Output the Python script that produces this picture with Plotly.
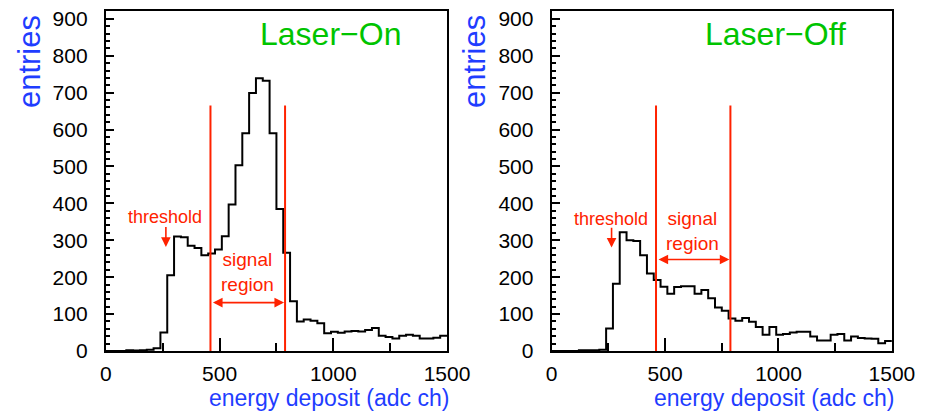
import plotly.graph_objects as go

# ---------------- data ----------------
BIN_WIDTH = 30
X_MIN, X_MAX = 0, 1500
Y_MAX = 922

laser_on = [0, 0, 0, 2, 1, 2, 3, 7, 50, 205,
            310, 308, 285, 279, 259, 264, 275, 311, 397, 503,
            590, 699, 739, 732, 590, 385, 266, 135, 80, 85,
            82, 75, 48, 52, 49, 53, 54, 53, 57, 62,
            41, 38, 34, 41, 44, 41, 34, 34, 36, 41]

laser_off = [0, 0, 0, 0, 2, 2, 2, 3, 61, 182,
             322, 300, 298, 259, 210, 192, 174, 155, 173, 175,
             175, 155, 165, 143, 118, 109, 88, 82, 89, 79,
             65, 44, 65, 44, 46, 50, 52, 52, 39, 28,
             28, 44, 46, 28, 39, 35, 34, 33, 21, 27]

panel_titles = ["Laser\u2212On", "Laser\u2212Off"]
x_title = "energy deposit (adc ch)"
y_title = "entries"
x_ticks = [0, 500, 1000, 1500]
y_ticks = [0, 100, 200, 300, 400, 500, 600, 700, 800, 900]

signal_region = [460, 788]
signal_line_top = 665
threshold = 264

# ---------------- style / layout constants ----------------
FONT = "Liberation Sans, Arial, Helvetica, sans-serif"
RED = "#ff2200"
BLUE = "#1f3dff"
GREEN = "#00c400"
W, H = 943, 418

# panel frames in pixels
frames = [(103, 455), (563, 914)]
frame_top, frame_bottom = 8, 360

# per-panel annotation heights (data units)
threshold_text_y = [362, 358]
threshold_arrow = [(340, 282), (338, 280)]
signal_text_y = [214, 326]
signal_arrow_y = [131, 248]

edges = [X_MIN + i * BIN_WIDTH for i in range(len(laser_on) + 1)]

fig = go.Figure()
annotations = []

for i, (counts, title) in enumerate([(laser_on, panel_titles[0]), (laser_off, panel_titles[1])]):
    xa = "x" if i == 0 else "x2"
    ya = "y" if i == 0 else "y2"
    fig.add_trace(go.Scatter(
        x=edges, y=counts + [counts[-1]], mode="lines", line_shape="hv",
        line=dict(color="black", width=2), xaxis=xa, yaxis=ya,
        showlegend=False, hoverinfo="skip"))
    for xv in signal_region:
        fig.add_trace(go.Scatter(
            x=[xv, xv], y=[0, signal_line_top], mode="lines",
            line=dict(color=RED, width=2), xaxis=xa, yaxis=ya,
            showlegend=False, hoverinfo="skip"))

    annotations.append(dict(
        text=title, xref=xa, yref=ya, x=668, y=858, xanchor="left", yanchor="middle",
        showarrow=False, font=dict(family=FONT, size=32, color=GREEN)))
    annotations.append(dict(
        text="threshold", xref=xa, yref=ya, x=threshold - 2, y=threshold_text_y[i],
        xanchor="center", yanchor="middle", showarrow=False,
        font=dict(family=FONT, size=18, color=RED)))
    annotations.append(dict(
        text="", xref=xa, yref=ya, x=threshold, y=threshold_arrow[i][1],
        axref=xa, ayref=ya, ax=threshold, ay=threshold_arrow[i][0],
        showarrow=True, arrowhead=2, arrowsize=1.2, arrowwidth=1.6, arrowcolor=RED,
        standoff=0, startstandoff=0))
    annotations.append(dict(
        text="signal<br>region", xref=xa, yref=ya,
        x=(signal_region[0] + signal_region[1]) / 2 - 2, y=signal_text_y[i],
        xanchor="center", yanchor="middle", showarrow=False,
        font=dict(family=FONT, size=19, color=RED)))
    annotations.append(dict(
        text="", xref=xa, yref=ya, x=signal_region[1], y=signal_arrow_y[i],
        axref=xa, ayref=ya, ax=signal_region[0], ay=signal_arrow_y[i],
        showarrow=True, arrowhead=2, arrowside="end+start", arrowsize=1.2,
        arrowwidth=1.6, arrowcolor=RED, standoff=1, startstandoff=1))
    annotations.append(dict(
        text=x_title, xref=xa + " domain", yref=ya + " domain", x=1, y=0,
        xanchor="right", yanchor="middle", xshift=4, yshift=-47, showarrow=False,
        font=dict(family=FONT, size=23, color=BLUE)))
    annotations.append(dict(
        text=y_title, xref=xa + " domain", yref=ya + " domain", x=0, y=1,
        xanchor="center", yanchor="top", xshift=-77, yshift=-2, textangle=-90,
        showarrow=False, font=dict(family=FONT, size=31, color=BLUE)))

axis_common = dict(showline=True, linecolor="black", linewidth=2, mirror=True,
                   showgrid=False, zeroline=False, ticks="inside",
                   tickcolor="black", tickfont=dict(family=FONT, size=21, color="black"))

layout = dict(
    width=W, height=H, margin=dict(l=0, r=0, t=0, b=0, pad=0),
    paper_bgcolor="white", plot_bgcolor="white",
    showlegend=False, annotations=annotations,
)
ydom = [(H - frame_bottom) / H, (H - frame_top) / H]
for i, (l, r) in enumerate(frames):
    sfx = "" if i == 0 else "2"
    layout["xaxis" + sfx] = dict(
        axis_common, domain=[l / W, r / W], range=[X_MIN, X_MAX],
        tickvals=x_ticks, ticktext=[str(v) for v in x_ticks], ticklen=13, tickwidth=1.5,
        minor=dict(ticks="inside", dtick=250, ticklen=8, tickwidth=1.5, tickcolor="black"),
        anchor="y" + sfx, ticklabelstandoff=3)
    layout["yaxis" + sfx] = dict(
        axis_common, domain=ydom, range=[0, Y_MAX],
        tickvals=y_ticks, ticktext=[str(v) for v in y_ticks], ticklen=8, tickwidth=1.5,
        minor=dict(ticks="inside", dtick=20, ticklen=4, tickwidth=1.5, tickcolor="black"),
        anchor="x" + sfx, ticklabelstandoff=12)

fig.update_layout(**layout)
fig.write_html(
    "out.html",
    config={"responsive": False, "displayModeBar": False},
    post_script="document.body.style.margin='0px';document.body.style.overflow='hidden';",
)
